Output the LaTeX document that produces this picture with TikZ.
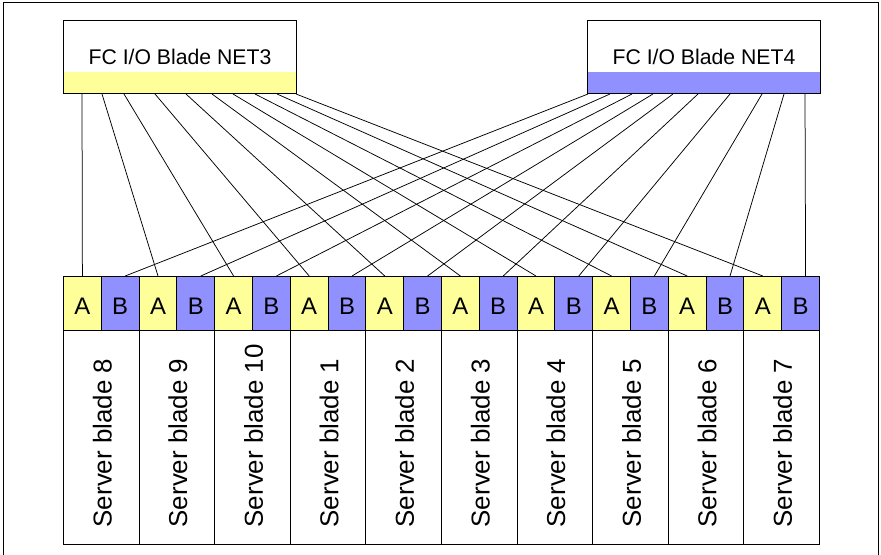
\documentclass[tikz,border=0pt]{standalone}
\usepackage{fontspec}
\setmainfont{Liberation Sans}
\definecolor{portA}{RGB}{255,255,153}
\definecolor{portB}{RGB}{144,144,255}
\tikzset{
  frame/.style={draw, line width=1bp},
  netbox/.style={draw, line width=1bp, minimum width=233bp, minimum height=73bp, inner sep=0pt, anchor=north west, font=\fontsize{21.3}{25}\selectfont},
  strip/.style={minimum width=233bp, minimum height=21bp, inner sep=0pt, anchor=south west},
  cell/.style={draw, line width=1bp, minimum width=37.8bp, minimum height=54bp, inner sep=0pt, anchor=north west},
  celltext/.style={font=\fontsize{24}{28}\selectfont, inner sep=0pt, yshift=-3bp},
  bladebox/.style={draw, line width=1bp, minimum width=75.6bp, minimum height=214bp, inner sep=0pt, anchor=north west},
  bladelabel/.style={rotate=90, anchor=west, inner sep=0pt, font=\fontsize{26}{30}\selectfont},
  link/.style={line width=0.75bp}
}
\begin{document}
\begin{tikzpicture}[x=1bp,y=-1bp]
\useasboundingbox (0,0) rectangle (881,555);
\draw[frame] (3,3) rectangle (878,560);
% I/O blades
\node[strip, fill=portA] (net3strip) at (63,93) {};
\node[netbox] (net3) at (63,20) {FC I/O Blade NET3};
\node[strip, fill=portB] (net4strip) at (587,93) {};
\node[netbox] (net4) at (587,20) {FC I/O Blade NET4};
% server blades
\foreach \i/\lab [evaluate=\i as \x using 63+75.6*(\i-1)] in {1/8,2/9,3/10,4/1,5/2,6/3,7/4,8/5,9/6,10/7}{
  \node[cell, fill=portA, label={[celltext]center:A}] (a\i) at (\x,276) {};
  \node[cell, fill=portB, label={[celltext]center:B}] (b\i) at (\x+37.8,276) {};
  \node[bladebox] (s\i) at (\x,330) {};
  \node[bladelabel] (t\i) at (\x+39.3,527.5) {Server blade \lab};
}
% links
\foreach \s/\i in {19/1,39/2,61/3,92/4,123/5,149/6,170/7,192/8,214/9,233/10}
  \draw[link] ([xshift=\s bp]net3.south west) -- (a\i.north);
\foreach \s/\i in {1/1,23/2,45/3,66/4,86/5,111/6,143/7,175/8,197/9,218/10}
  \draw[link] ([xshift=\s bp]net4.south west) -- ([xshift=5bp]b\i.north);
\end{tikzpicture}
\end{document}
